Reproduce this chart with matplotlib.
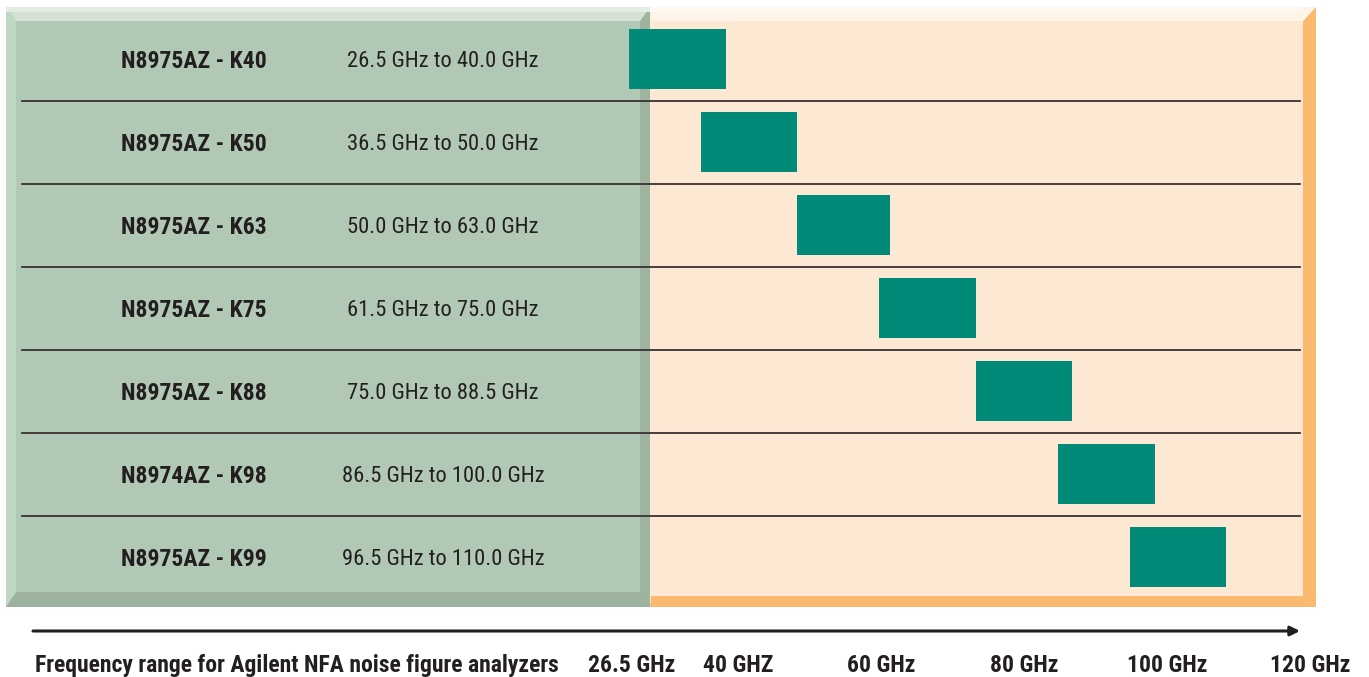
import matplotlib.pyplot as plt
import matplotlib.transforms as mtransforms
from matplotlib.patches import Polygon, Rectangle

# Datos
models = ["N8975AZ - K40", "N8975AZ - K50", "N8975AZ - K63", "N8975AZ - K75",
          "N8975AZ - K88", "N8974AZ - K98", "N8975AZ - K99"]
f_start = [26.5, 36.5, 50.0, 61.5, 75.0, 86.5, 96.5]
f_stop = [40.0, 50.0, 63.0, 75.0, 88.5, 100.0, 110.0]
tick_values = [26.5, 40, 60, 80, 100, 120]
tick_labels = ["26.5 GHz", "40 GHZ", "60 GHz", "80 GHz", "100 GHz", "120 GHz"]

FONT = ['Roboto Condensed', 'Archivo Narrow', 'Liberation Sans Narrow', 'DejaVu Sans']
W, H = 1369, 677

fig = plt.figure(figsize=(W / 100, H / 100), dpi=100)

# Fondo decorativo en coordenadas de pixel
bg = fig.add_axes([0, 0, 1, 1])
bg.set_xlim(0, W)
bg.set_ylim(H, 0)
bg.axis('off')


def bevel_panel(ax, x0, y0, x1, y1, face, bands):
    # bands: (ancho, color) para arriba, izquierda, abajo, derecha
    (tw, tc), (lw, lc), (bw, bc), (rw, rc) = bands
    ax.add_patch(Rectangle((x0, y0), x1 - x0, y1 - y0, facecolor=face, edgecolor='none'))
    ix0, iy0, ix1, iy1 = x0 + lw, y0 + tw, x1 - rw, y1 - bw
    ax.add_patch(Polygon([(x0, y1), (x1, y1), (ix1, iy1), (ix0, iy1)], closed=True,
                         facecolor=bc, edgecolor='none'))
    ax.add_patch(Polygon([(x1, y0), (x1, y1), (ix1, iy1), (ix1, iy0)], closed=True,
                         facecolor=rc, edgecolor='none'))
    ax.add_patch(Polygon([(x0, y0), (x1, y0), (ix1, iy0), (ix0, iy0)], closed=True,
                         facecolor=tc, edgecolor='none'))
    ax.add_patch(Polygon([(x0, y0), (x0, y1), (ix0, iy1), (ix0, iy0)], closed=True,
                         facecolor=lc, edgecolor='none'))


bevel_panel(bg, 6, 7, 650, 607, '#b1c8b4',
            [(14, '#d3e2d5'), (10, '#c2d6c4'), (15, '#9cb19e'), (10, '#9fb3a1')])
bevel_panel(bg, 650, 7, 1316, 607, '#fde8d3',
            [(14, '#fef3e8'), (1, '#fdebd8'), (11, '#fbb970'), (13, '#fbb970')])
# brillo superior mas claro
bg.add_patch(Rectangle((6, 7), 644, 5, facecolor='#e2ece3', edgecolor='none'))
bg.add_patch(Rectangle((650, 7), 653, 5, facecolor='#fff8f1', edgecolor='none'))

# Eje de datos: x en GHz
ax = fig.add_axes([0, 0, 1, 1])
ax.patch.set_alpha(0)
ax.axis('off')
ax.set_xlim(26.5 - 629 / 7.15, 26.5 + (W - 629) / 7.15)
ax.set_ylim((H - 59) / 83, -59 / 83)

# Barras de rango de frecuencia
for i, (a, b) in enumerate(zip(f_start, f_stop)):
    ax.barh(i, b - a, left=a, height=0.72, color='#028a79', zorder=3)

# Lineas separadoras
x_sep0 = ax.get_xlim()[0] + 22 / 7.15
x_sep1 = ax.get_xlim()[0] + 1300 / 7.15
for i in range(len(models) - 1):
    ax.plot([x_sep0, x_sep1], [i + 0.5, i + 0.5], color='#3a3232', lw=1.3, zorder=2)

# Etiquetas de modelo y rango
tr = mtransforms.blended_transform_factory(fig.transFigure, ax.transData)
for i, (m, a, b) in enumerate(zip(models, f_start, f_stop)):
    ax.text(194 / W, i, m, transform=tr, ha='center', va='center_baseline',
            fontsize=17, fontweight='bold', color='#231f20', family=FONT)
    ax.text(443 / W, i, f"{a:.1f} GHz to {b:.1f} GHz", transform=tr, ha='center',
            va='center_baseline', fontsize=16.2, color='#231f20', family=FONT)

# Flecha del eje de frecuencia
y_arrow = (631 - 59) / 83
ax.annotate('', xy=(x_sep1, y_arrow), xytext=(ax.get_xlim()[0] + 33 / 7.15, y_arrow),
            arrowprops=dict(arrowstyle='-|>', color='#231f20', lw=2.2,
                            mutation_scale=14, shrinkA=0, shrinkB=0))

# Etiquetas inferiores
y_lab = (663 - 59) / 83
ax.text(297 / W, y_lab, 'Frequency range for Agilent NFA noise figure analyzers',
        transform=tr, ha='center', va='center_baseline', fontsize=17,
        fontweight='bold', color='#231f20', family=FONT)
for v, lab in zip(tick_values, tick_labels):
    shift = 0.4 if v == 26.5 else 1.8
    ax.text(v + shift, y_lab, lab, ha='center', va='center_baseline', fontsize=17,
            fontweight='bold', color='#231f20', family=FONT)

fig.savefig('out.png', dpi=100)
